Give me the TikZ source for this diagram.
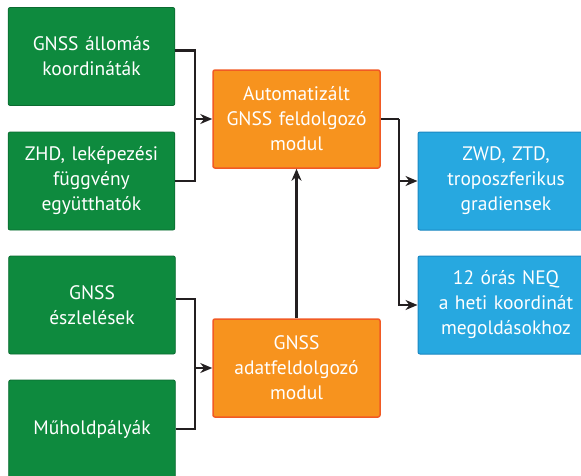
\documentclass[tikz,border=0pt]{standalone}
\usepackage{fontspec}
\setmainfont{PT Sans}
\usepackage{xcolor}
\usetikzlibrary{positioning, arrows.meta}
\definecolor{inGreen}{HTML}{0E8A3E}
\definecolor{inGreenEdge}{HTML}{0B6B31}
\definecolor{procOrange}{HTML}{F7931E}
\definecolor{procEdge}{HTML}{F15A24}
\definecolor{outBlue}{HTML}{27A8E0}
\definecolor{outBlueEdge}{HTML}{1B87C2}
\definecolor{lineDark}{HTML}{231F20}

\begin{document}
\begin{tikzpicture}[x=1pt, y=-1pt,
	box/.style={rectangle, minimum height=98, text width=160, align=center, rounded corners=2, text=white, font=\fontsize{19.5}{25}\selectfont},
	inbox/.style={box, fill=inGreen, draw=inGreenEdge, line width=0.8, minimum width=165},
	procbox/.style={box, fill=procOrange, draw=procEdge, line width=1.5, minimum width=167},
	outbox/.style={box, fill=outBlue, draw=outBlueEdge, line width=1, minimum width=176},
	flow/.style={draw=lineDark, line width=2.2, -{Stealth[length=12, width=10]}},
	link/.style={draw=lineDark, line width=2.2},
	]
		\useasboundingbox (0,0) rectangle (581,475);
		\clip (0,0) rectangle (581,475);

		%Nodes
		\node[inbox]    (Stations)   at (91.5,56.5)  {GNSS állomás\\koordináták};
		\node[inbox]    (Zhd)        at (91.5,181)   {ZHD, leképezési\\függvény\\együtthatók};
		\node[inbox]    (Obs)        at (92,305)     {GNSS\\észlelések};
		\node[inbox]    (Orbits)     at (92,429)     {Műholdpályák};
		\node[procbox]  (Auto)       at (296.5,119)  {Automatizált\\GNSS feldolgozó\\modul};
		\node[procbox]  (DataProc)   at (296.5,368)  {GNSS\\adatfeldolgozó\\modul};
		\node[outbox]   (Tropo)      at (506,181)    {ZWD, ZTD,\\troposzferikus\\gradiensek};
		\node[outbox]   (Neq)        at (506,305)    {12 órás NEQ\\a heti koordinát\\megoldásokhoz};

		%Junctions
		\coordinate (JoinTop)  at (195,119);
		\coordinate (JoinBot)  at (195,368);
		\coordinate (Split)    at (399,119);

		%Lines
		\draw[link] ([yshift=6]Stations.east) -| (JoinTop);
		\draw[link] (Zhd.east) -| (JoinTop);
		\draw[flow] (JoinTop) -- (Auto.west);
		\draw[link] ([yshift=6]Obs.east) -| (JoinBot);
		\draw[link] (Orbits.east) -| (JoinBot);
		\draw[flow] (JoinBot) -- (DataProc.west);
		\draw[flow] (DataProc.north) -- (Auto.south);
		\draw[link] (Auto.east) -- (Split);
		\draw[flow] (Split) |- (Tropo.west);
		\draw[flow] (Split) |- (Neq.west);
	\end{tikzpicture}
\end{document}
